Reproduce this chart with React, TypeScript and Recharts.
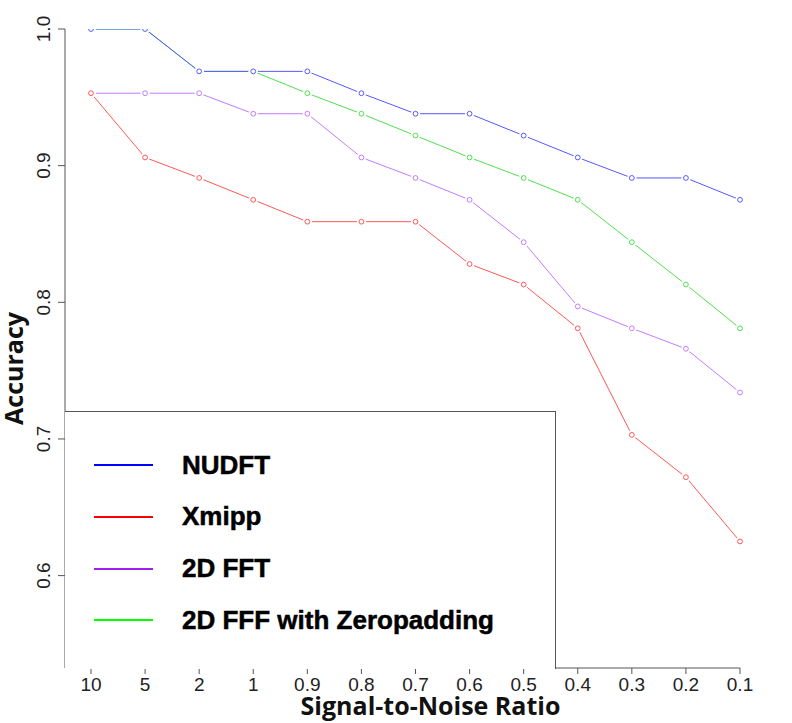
import { LineChart, Line, XAxis, YAxis, Legend, Label } from 'recharts';

// Signal-to-noise levels along the x axis, high to low
const snrLevels = ['10', '5', '2', '1', '0.9', '0.8', '0.7', '0.6', '0.5', '0.4', '0.3', '0.2', '0.1'];

// Classification accuracy per method at each SNR level
const nudftAcc = [1.0, 1.0, 0.969, 0.969, 0.969, 0.953, 0.938, 0.938, 0.922, 0.906, 0.891, 0.891, 0.875];
const xmippAcc = [0.953, 0.906, 0.891, 0.875, 0.859, 0.859, 0.859, 0.828, 0.813, 0.781, 0.703, 0.672, 0.625];
const fft2dAcc = [0.953, 0.953, 0.953, 0.938, 0.938, 0.906, 0.891, 0.875, 0.844, 0.797, 0.781, 0.766, 0.734];
const zeropadAcc = [1.0, 1.0, 0.969, 0.969, 0.953, 0.938, 0.922, 0.906, 0.891, 0.875, 0.844, 0.813, 0.781];

const accuracyTicks = [0.6, 0.7, 0.8, 0.9, 1.0];

type Series = { key: string; name: string; stroke: string; legend: string };

// drawing order: green underneath, blue on top
const series: Series[] = [
  { key: 'zeropad', name: '2D FFF with Zeropadding', stroke: '#4fe04f', legend: '#00ff00' },
  { key: 'fft2d', name: '2D FFT', stroke: '#c27cff', legend: '#a020f0' },
  { key: 'xmipp', name: 'Xmipp', stroke: '#ff5757', legend: '#ff0000' },
  { key: 'nudft', name: 'NUDFT', stroke: '#5757ff', legend: '#0000ff' },
];
const legendOrder = ['nudft', 'xmipp', 'fft2d', 'zeropad'];

const rows = snrLevels.map((snr, i) => ({
  snr,
  nudft: nudftAcc[i],
  xmipp: xmippAcc[i],
  fft2d: fft2dAcc[i],
  zeropad: zeropadAcc[i],
}));

const tickFont = '"Liberation Sans", Arial, sans-serif';
const titleFont = '"Open Sans", "Noto Sans", sans-serif';

// open circle with a small white halo so the line breaks around each point
function makeDot(color: string) {
  return (props: any) => {
    const { cx, cy, index } = props;
    if (cx == null || cy == null) return <g key={index} />;
    return (
      <g key={index}>
        <circle cx={cx} cy={cy} r={4.6} fill="#fff" />
        <circle cx={cx} cy={cy} r={2.4} fill="#fff" stroke={color} strokeWidth={1} />
      </g>
    );
  };
}

function XTick(props: any) {
  const { x, y, payload } = props;
  return (
    <text x={x} y={y} dy={15} textAnchor="middle" fontFamily={tickFont} fontSize={19} fill="#222">
      {payload.value}
    </text>
  );
}

function YTick(props: any) {
  const { x, y, payload } = props;
  return (
    <text
      transform={`translate(${x - 6}, ${y}) rotate(-90)`}
      textAnchor="middle"
      fontFamily={tickFont}
      fontSize={19}
      fill="#222"
    >
      {Number(payload.value).toFixed(1)}
    </text>
  );
}

function XTitle(props: any) {
  const { x, y, width } = props.viewBox;
  return (
    <text x={x + width / 2 + 28} y={y + 47} textAnchor="middle" fontFamily={titleFont} fontWeight={700} fontSize={25} fill="#111">
      Signal-to-Noise Ratio
    </text>
  );
}

function YTitle(props: any) {
  const { x, y, height } = props.viewBox;
  return (
    <text
      transform={`translate(${x + 3}, ${y + height / 2 + 20}) rotate(-90)`}
      textAnchor="middle"
      fontFamily={titleFont}
      fontWeight={700}
      fontSize={25}
      fill="#111"
    >
      Accuracy
    </text>
  );
}

function MethodLegend() {
  return (
    <div
      style={{
        width: '100%',
        height: '100%',
        boxSizing: 'border-box',
        borderTop: '1px solid #555',
        borderRight: '1px solid #555',
        background: '#fff',
        position: 'relative',
      }}
    >
      {legendOrder.map((k, i) => {
        const s = series.find((d) => d.key === k)!;
        return (
          <div
            key={k}
            style={{
              position: 'absolute',
              left: 0,
              top: 38 + i * 51.8,
              height: 30,
              display: 'flex',
              alignItems: 'center',
            }}
          >
            <div style={{ marginLeft: 29, width: 59, height: 2, background: s.legend }} />
            <div
              style={{
                marginLeft: 29,
                fontFamily: tickFont,
                fontWeight: 700,
                fontSize: 26,
                color: '#000',
                WebkitTextStroke: '0.5px #000',
                whiteSpace: 'nowrap',
              }}
            >
              {s.name}
            </div>
          </div>
        );
      })}
    </div>
  );
}

export default function App() {
  return (
    <div style={{ position: 'absolute', left: 0, top: 0, width: 792, height: 723, background: '#fff' }}>
      <LineChart width={792} height={723} data={rows} margin={{ top: 29, right: 52, bottom: 0, left: 20 }}>
        <XAxis
          dataKey="snr"
          type="category"
          height={55}
          padding={{ left: 26, right: 0 }}
          interval={0}
          tickSize={6}
          stroke="#555"
          tick={<XTick />}
        >
          <Label content={<XTitle />} />
        </XAxis>
        <YAxis
          type="number"
          width={45}
          domain={[0.5324, 1.0]}
          ticks={accuracyTicks}
          allowDataOverflow
          tickSize={7}
          stroke="#555"
          tick={<YTick />}
        >
          <Label content={<YTitle />} />
        </YAxis>
        <Legend
          layout="horizontal"
          verticalAlign="middle"
          align="center"
          content={<MethodLegend />}
          wrapperStyle={{ position: 'absolute', left: 65, top: 411, width: 491, height: 258 }}
        />
        {series.map((s) => (
          <Line
            key={s.key}
            dataKey={s.key}
            name={s.name}
            type="linear"
            stroke={s.stroke}
            strokeWidth={1}
            dot={makeDot(s.stroke)}
            activeDot={false}
            isAnimationActive={false}
          />
        ))}
      </LineChart>
    </div>
  );
}
